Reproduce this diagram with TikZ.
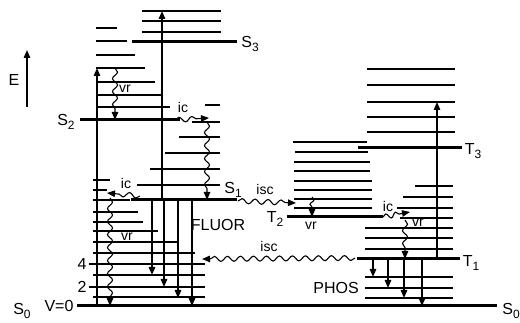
\documentclass[tikz,border=0pt]{standalone}
\usepackage{fontspec}
\setmainfont{Liberation Sans}
\usetikzlibrary{arrows.meta,decorations.pathmorphing}
\newcommand\lvlab[2]{#1\raisebox{-0.5ex}{\fontsize{12}{12}\selectfont #2}}
\begin{document}
\begin{tikzpicture}[x=1pt,y=-1pt,
  lv/.style={line width=1.4pt},
  mainlv/.style={line width=3pt},
  arr/.style={line width=1.4pt,-{Triangle[length=8pt,width=6.5pt]}},
  wave/.style={line width=1.1pt,decorate,decoration={snake,amplitude=2.5pt,segment length=13pt,post length=7pt},-{Triangle[length=8pt,width=6.5pt]}},
  lab/.style={font=\fontsize{16}{16}\selectfont,inner sep=0pt},
  sm/.style={font=\fontsize{14}{14}\selectfont,inner sep=0pt}]
\useasboundingbox (0,0) rectangle (520,323);
% S2 group
\foreach \y/\a/\b in {28/96/117,41/96/127,55/96/135,68/96/145,82/96/155,95/96/162,107/96/170}
  \draw[lv] (\a,\y) -- (\b,\y);
\draw[mainlv] (80,120) -- (180,120);
% S3 group
\foreach \y in {11,21,32} \draw[lv] (142,\y) -- (221,\y);
\draw[mainlv] (132,42) -- (237,42);
% S1 group
\foreach \y/\a in {105/205,122/192,137/179,153/165,169/150,185/137}
  \draw[lv] (\a,\y) -- (220,\y);
\draw[mainlv] (131,200) -- (237,200);
% S0 ladder
\foreach \y/\a/\b in {180/93/110,190/93/107,200/93/130,212/93/138,222/93/143,231/93/158,242/93/177,253/93/195,264/89/205,275/93/205,287/89/205,297/93/205}
  \draw[lv] (\a,\y) -- (\b,\y);
\draw[mainlv] (77,306) -- (497,306);
% T2 group
\foreach \y/\a/\b in {142/293/367,152/295/368,162/294/370,171/294/370,181/294/372,190/294/372,199/294/372,208/294/372}
  \draw[lv] (\a,\y) -- (\b,\y);
\draw[mainlv] (287,217) -- (383,217);
% T3 group
\foreach \y in {69,85,102,117,132} \draw[lv] (367,\y) -- (455,\y);
\draw[mainlv] (358,148) -- (462,148);
% T1 group
\foreach \y/\a in {186/415,197/403,208/397,218/400,228/365,238/365,249/365,277/365,288/365,298/365}
  \draw[lv] (\a,\y) -- (453,\y);
\draw[mainlv] (357,259) -- (460,259);
% straight arrows
\coordinate (e1) at (27,107); \coordinate (e2) at (27,50);
\draw[arr] (e1) -- (e2);
\draw[arr] (97,306) -- (97,68);
\draw[arr] (162,200) -- (162,11);
\draw[arr] (152,200) -- (152,275);
\draw[arr] (164,200) -- (164,287);
\draw[arr] (178,200) -- (178,298);
\draw[arr] (192,200) -- (192,306);
\draw[arr] (437,259) -- (437,102);
\draw[arr] (373,259) -- (373,277);
\draw[arr] (388,259) -- (388,288);
\draw[arr] (404,259) -- (404,298);
\draw[arr] (422,259) -- (422,306);
% wavy arrows
\draw[wave] (115,68) -- (115,120);
\draw[wave] (175,120) -- (209,118);
\draw[wave] (207,122) -- (207,200);
\draw[wave] (140,196) -- (107,193);
\draw[wave] (110,198) -- (110,306);
\draw[wave] (238,201) -- (296,203);
\draw[wave,decoration={segment length=9pt,amplitude=2pt,post length=7pt}] (312,197) -- (312,217);
\draw[wave,decoration={segment length=10pt,amplitude=2.5pt,post length=7pt}] (383,217) -- (410,212);
\draw[wave] (405,220) -- (405,259);
\draw[wave] (355,258) -- (202,259);
% labels
\node[lab] (lE) at (14,80) {E};
\node[lab] (lS3) at (250,44) {\lvlab{S}{3}};
\node[lab] (lS2) at (66,122) {\lvlab{S}{2}};
\node[lab] (lS1) at (233,190) {\lvlab{S}{1}};
\node[lab] (lS0) at (22,311) {\lvlab{S}{0}};
\node[lab] (lS0r) at (511,311) {\lvlab{S}{0}};
\node[lab] (lT3) at (473,151) {\lvlab{T}{3}};
\node[lab] (lT2) at (275,219) {\lvlab{T}{2}};
\node[lab] (lT1) at (471,263) {\lvlab{T}{1}};
\node[lab] (lv0) at (59,306) {V=0};
\node[lab] (l4) at (82,264) {4};
\node[lab] (l2) at (82,287) {2};
\node[lab] (lfl) at (218,225) {FLUOR};
\node[lab] (lph) at (336,288) {PHOS};
\node[sm] (vr1) at (125,89) {vr};
\node[sm] (ic1) at (183,107) {ic};
\node[sm] (ic2) at (126,183) {ic};
\node[sm] (vr2) at (127,237) {vr};
\node[sm] (isc1) at (265,189) {isc};
\node[sm] (isc2) at (269,246) {isc};
\node[sm] (vr3) at (311,226) {vr};
\node[sm] (ic3) at (388,206) {ic};
\node[sm] (vr4) at (418,223) {vr};
\end{tikzpicture}
\end{document}
